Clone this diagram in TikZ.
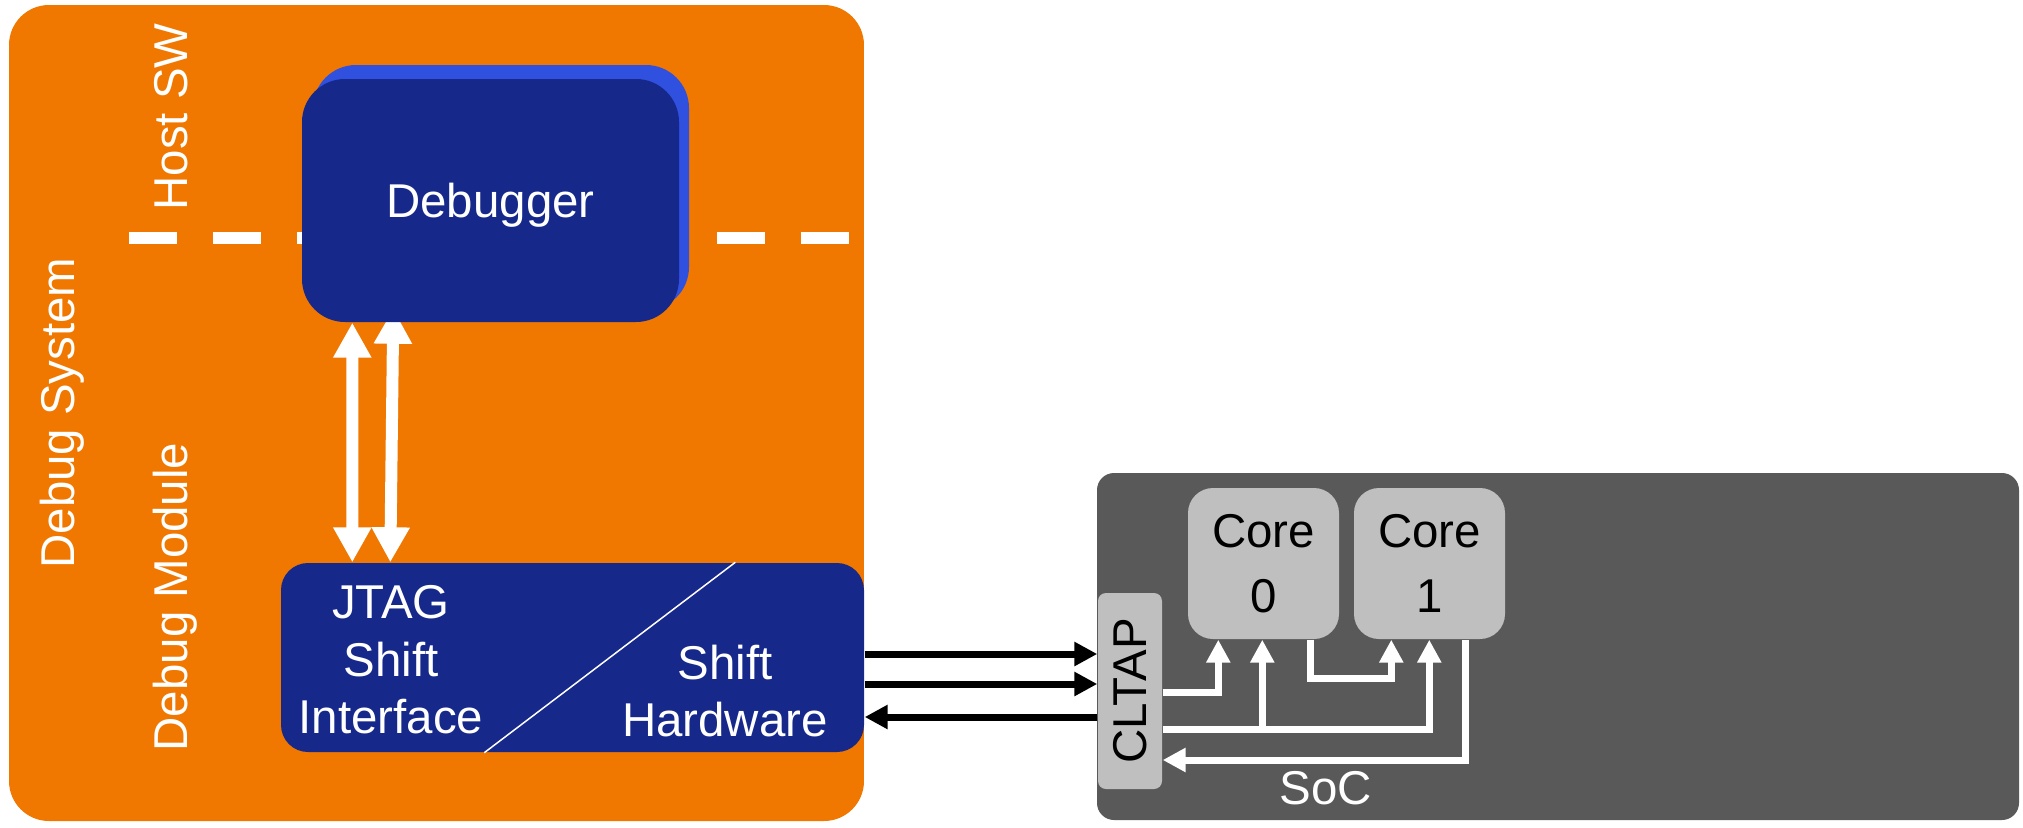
\documentclass[tikz,border=0pt]{standalone}
\usepackage{fontspec}
\setmainfont{Liberation Sans}
\usepackage{graphicx}
\usepackage{tikz}
\usetikzlibrary{arrows,arrows.meta,shapes,positioning,calc,backgrounds}
\definecolor{dsorange}{RGB}{240,120,0}
\definecolor{dsblue}{RGB}{22,40,138}
\definecolor{dslightblue}{RGB}{48,80,224}
\definecolor{socgray}{RGB}{89,89,89}
\definecolor{coregray}{RGB}{191,191,191}
\tikzstyle{bigarrow} = [line width=1.2mm, white, {Triangle[length=3.5mm,width=3.6mm]}-{Triangle[length=3.5mm,width=3.6mm]}]
\tikzstyle{pinarrow} = [line width=0.7mm, black, -{Triangle[length=2.3mm,width=2.3mm]}]
\tikzstyle{busarrow} = [line width=0.7mm, white, -{Triangle[length=2.3mm,width=2.3mm]}]
\tikzstyle{dbgbox} = [rectangle, rounded corners=4.3mm, fill=dsblue, text=white, minimum width=37.7mm, minimum height=24.3mm]
\tikzstyle{corebox} = [rectangle, rounded corners=2.5mm, fill=coregray, minimum width=15.1mm, minimum height=15.1mm, align=center, font=\fontsize{13.5}{18.5}\selectfont]
\tikzstyle{sidelabel} = [rotate=90, anchor=base, text=white, inner sep=0pt]
\pgfdeclarelayer{bg}
\pgfdeclarelayer{mid}
\pgfsetlayers{bg,mid,main}

\begin{document}
\begin{tikzpicture}[x=0.1mm, y=-0.1mm, font=\fontsize{13.5}{16.4}\selectfont]
\useasboundingbox (0,0) rectangle (2023,827);

% Debug system
\begin{pgfonlayer}{bg}
\node[rectangle, rounded corners=4mm, fill=dsorange, minimum width=85.5mm, minimum height=81.6mm] (sys) at (436.5,413) {};
\node[sidelabel] (dbgsys) at (74,413) {Debug System};
\node[sidelabel] (hostsw) at (187,117) {Host SW};
\node[sidelabel] (dbgmod) at (187,597) {Debug Module};

% host / module boundary
\coordinate (sepL) at (129,238);
\coordinate (sepR) at (849,238);
\draw[white, line width=1.2mm, dash pattern=on 4.8mm off 3.6mm] (sepL) -- (sepR);
\end{pgfonlayer}

% Debugger
\node[dbgbox, fill=dslightblue, minimum width=37.6mm, minimum height=24.5mm] (dbgback) at (501,187.5) {};
\node[dbgbox, text depth=0pt] (dbg) at (490.5,200.5) {Debugger};

% JTAG module
\node[rectangle, rounded corners=2.7mm, fill=dsblue, minimum width=58.3mm, minimum height=18.9mm] (jtag) at (572.5,657.5) {};
\draw[white, line width=0.15mm] ($(jtag.north west)+(455,0)$) -- ($(jtag.south west)+(204,0)$);
\node[text=white, align=center, inner sep=0pt] (jtagtxt) at (391,660) {JTAG\\Shift\\Interface};
\node[text=white, align=center, inner sep=0pt] (hwtxt) at (725,691) {Shift\\Hardware};

\begin{pgfonlayer}{mid}
\draw[bigarrow] ($(dbg.south west)+(51,0)$) -- ($(jtag.north west)+(72,0)$);
\draw[bigarrow] ($(dbg.south west)+(92,-14)$) -- ($(jtag.north west)+(110,0)$);
\end{pgfonlayer}

% SoC
\node[rectangle, rounded corners=1.7mm, fill=socgray, minimum width=92.2mm, minimum height=34.7mm] (soc) at (1558,646.5) {};
\node[corebox] (core0) at (1263.5,563.5) {Core\\0};
\node[corebox] (core1) at (1429.5,563.5) {Core\\1};
\node[rectangle, rounded corners=0.8mm, fill=coregray, minimum width=6.4mm, minimum height=19.6mm, inner sep=0pt] (cltap) at (1130,691) {\rotatebox{90}{CLTAP}};
\node[text=white, anchor=base, inner sep=0pt] (soclbl) at (1326,804) {SoC};

% JTAG pins
\coordinate (p1) at ($(jtag.east)+(0,-3.5)$);
\coordinate (p2) at ($(jtag.east)+(0,26.5)$);
\coordinate (p3) at ($(jtag.east)+(0,59.5)$);
\draw[pinarrow] (p1) -- (p1 -| cltap.west);
\draw[pinarrow] (p2) -- (p2 -| cltap.west);
\draw[pinarrow] (p3 -| cltap.west) -- (p3);

% on-chip chain
\draw[busarrow] ($(cltap.east)+(0,1)$) -| ($(core0.south west)+(31,0)$);
\draw[busarrow] ($(cltap.east)+(0,38)$) -| ($(core1.south west)+(76,0)$);
\draw[busarrow] ($(core0.south west)+(75,90)$) -- ($(core0.south west)+(75,0)$);
\draw[busarrow] ($(core0.south west)+(123,0)$) -- ++(0,39) -| ($(core1.south west)+(38,0)$);
\draw[busarrow] ($(core1.south west)+(112,0)$) |- ($(cltap.east)+(0,69)$);
\end{tikzpicture}
\end{document}
